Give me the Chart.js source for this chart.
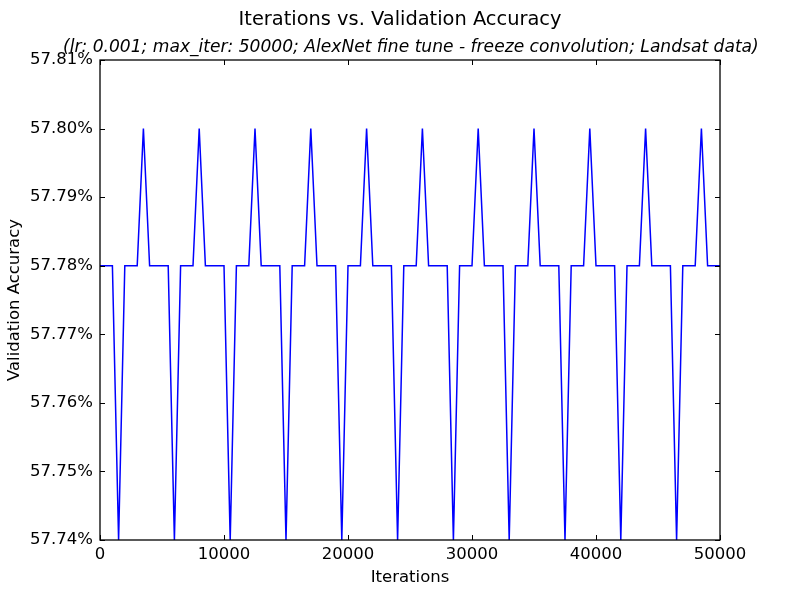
<!DOCTYPE html>
<html>
<head>
<meta charset="utf-8">
<script src="https://cdn.jsdelivr.net/npm/chart.js@4"></script>
<style>
  body { margin: 0; background: #fff; }
  #wrap { width: 800px; height: 600px; }
</style>
</head>
<body>
<div id="wrap"><canvas id="acc_chart" width="800" height="600"></canvas></div>
<script>
// Iterations (x) and validation accuracy in % (y)
var iterations = [
	0, 500, 1000, 1500, 2000, 2500, 3000, 3500, 4000, 4500,
	5000, 5500, 6000, 6500, 7000, 7500, 8000, 8500, 9000, 9500,
	10000, 10500, 11000, 11500, 12000, 12500, 13000, 13500, 14000, 14500,
	15000, 15500, 16000, 16500, 17000, 17500, 18000, 18500, 19000, 19500,
	20000, 20500, 21000, 21500, 22000, 22500, 23000, 23500, 24000, 24500,
	25000, 25500, 26000, 26500, 27000, 27500, 28000, 28500, 29000, 29500,
	30000, 30500, 31000, 31500, 32000, 32500, 33000, 33500, 34000, 34500,
	35000, 35500, 36000, 36500, 37000, 37500, 38000, 38500, 39000, 39500,
	40000, 40500, 41000, 41500, 42000, 42500, 43000, 43500, 44000, 44500,
	45000, 45500, 46000, 46500, 47000, 47500, 48000, 48500, 49000, 49500,
	50000
];
var accuracy = [
	57.78, 57.78, 57.78,
	57.74, 57.78, 57.78, 57.78, 57.80, 57.78, 57.78, 57.78, 57.78,
	57.74, 57.78, 57.78, 57.78, 57.80, 57.78, 57.78, 57.78, 57.78,
	57.74, 57.78, 57.78, 57.78, 57.80, 57.78, 57.78, 57.78, 57.78,
	57.74, 57.78, 57.78, 57.78, 57.80, 57.78, 57.78, 57.78, 57.78,
	57.74, 57.78, 57.78, 57.78, 57.80, 57.78, 57.78, 57.78, 57.78,
	57.74, 57.78, 57.78, 57.78, 57.80, 57.78, 57.78, 57.78, 57.78,
	57.74, 57.78, 57.78, 57.78, 57.80, 57.78, 57.78, 57.78, 57.78,
	57.74, 57.78, 57.78, 57.78, 57.80, 57.78, 57.78, 57.78, 57.78,
	57.74, 57.78, 57.78, 57.78, 57.80, 57.78, 57.78, 57.78, 57.78,
	57.74, 57.78, 57.78, 57.78, 57.80, 57.78, 57.78, 57.78, 57.78,
	57.74, 57.78, 57.78, 57.78, 57.80, 57.78, 57.78, 57.78
];

var FONT = 'DejaVu Sans';

// cadre noir + petites graduations vers l'intérieur (style matplotlib)
var framePlugin = {
	id: 'frame',
	afterDatasetsDraw: function(chart) {
		var ctx = chart.ctx;
		var a = chart.chartArea;
		var xs = chart.scales.x, ys = chart.scales.y;
		var len = 5;
		ctx.save();
		ctx.strokeStyle = '#000';
		ctx.lineWidth = 1;
		ctx.beginPath();
		xs.ticks.forEach(function(t) {
			var px = Math.round(xs.getPixelForValue(t.value)) + 0.5;
			ctx.moveTo(px, a.bottom); ctx.lineTo(px, a.bottom - len);
			ctx.moveTo(px, a.top); ctx.lineTo(px, a.top + len);
		});
		ys.ticks.forEach(function(t) {
			var py = Math.round(ys.getPixelForValue(t.value)) + 0.5;
			ctx.moveTo(a.left, py); ctx.lineTo(a.left + len, py);
			ctx.moveTo(a.right, py); ctx.lineTo(a.right - len, py);
		});
		ctx.stroke();
		ctx.lineWidth = 1.3;
		ctx.strokeRect(a.left, a.top, a.right - a.left, a.bottom - a.top);
		ctx.restore();
	}
};

var acc_chart = new Chart(document.getElementById('acc_chart'), {
	type: 'line',
	data: {
		labels: iterations,
		datasets: [{
			data: accuracy,
			borderColor: '#0000ff',
			borderWidth: 1.5,
			pointRadius: 0,
			fill: false,
			tension: 0
		}]
	},
	plugins: [framePlugin],
	options: {
		responsive: false,
		animation: false,
		layout: { padding: 0 },
		plugins: {
			legend: { display: false },
			tooltip: { enabled: false },
			title: {
				display: true,
				text: 'Iterations vs. Validation Accuracy',
				color: '#000',
				font: { family: FONT, size: 19.4, weight: 'normal' },
				padding: { top: 8.6, bottom: 5.4 }
			},
			subtitle: {
				display: true,
				text: '    (lr: 0.001; max_iter: 50000; AlexNet fine tune - freeze convolution; Landsat data)',
				color: '#000',
				font: { family: FONT, size: 17.1, style: 'italic' },
				padding: { top: 0, bottom: 2.2 }
			}
		},
		scales: {
			x: {
				type: 'linear',
				min: 0, max: 50000,
				grid: { display: false, drawTicks: false },
				border: { display: false },
				ticks: {
					stepSize: 10000,
					color: '#000',
					padding: 5,
					font: { family: FONT, size: 16.5 },
					maxRotation: 0,
					callback: function(v) { return String(v); }
				},
				title: {
					display: true,
					text: 'Iterations',
					color: '#000',
					font: { family: FONT, size: 16.5 },
					padding: { top: 0, bottom: 12 }
				},
				afterFit: function(s) { s.height = 60; }
			},
			y: {
				min: 57.74, max: 57.81,
				grid: { display: false, drawTicks: false },
				border: { display: false },
				ticks: {
					stepSize: 0.01,
					color: '#000',
					padding: 7,
					font: { family: FONT, size: 16.5 },
					callback: function(v) { return v.toFixed(2) + '%'; }
				},
				title: {
					display: true,
					text: 'Validation Accuracy',
					color: '#000',
					font: { family: FONT, size: 16.5 },
					padding: { top: 5, bottom: 0 }
				},
				afterFit: function(s) { s.width = 100; }
			},
			// axe vide à droite : réserve la marge droite de la figure
			yRight: {
				position: 'right',
				display: true,
				grid: { display: false, drawTicks: false },
				border: { display: false },
				ticks: { display: false },
				afterFit: function(s) { s.width = 80; }
			}
		}
	}
});
</script>
</body>
</html>
